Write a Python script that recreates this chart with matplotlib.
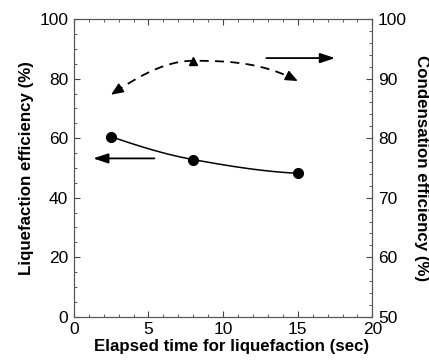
import numpy as np
import matplotlib
matplotlib.use('Agg')
import matplotlib.pyplot as plt
from matplotlib.ticker import MultipleLocator

plt.rcParams['font.family'] = ['Liberation Sans', 'DejaVu Sans']

# data
time_sec = [2.5, 8, 15]
liquefaction = [60.5, 52.8, 48.2]
condensation = [87.3, 93.0, 89.6]


def pchip(x, y, xs):
    # monotone cubic hermite curve through the points (for drawing only)
    x = np.asarray(x, float)
    y = np.asarray(y, float)
    h = np.diff(x)
    d = np.diff(y) / h
    m = np.zeros_like(y)
    for k in range(1, len(x) - 1):
        if d[k - 1] * d[k] > 0:
            w1 = 2 * h[k] + h[k - 1]
            w2 = h[k] + 2 * h[k - 1]
            m[k] = (w1 + w2) / (w1 / d[k - 1] + w2 / d[k])
    m[0] = ((2 * h[0] + h[1]) * d[0] - h[0] * d[1]) / (h[0] + h[1])
    m[-1] = ((2 * h[-1] + h[-2]) * d[-1] - h[-1] * d[-2]) / (h[-1] + h[-2])
    if np.sign(m[0]) != np.sign(d[0]):
        m[0] = 0
    if np.sign(m[-1]) != np.sign(d[-1]):
        m[-1] = 0
    i = np.clip(np.searchsorted(x, xs) - 1, 0, len(x) - 2)
    t = (xs - x[i]) / h[i]
    h00 = 2 * t**3 - 3 * t**2 + 1
    h10 = t**3 - 2 * t**2 + t
    h01 = -2 * t**3 + 3 * t**2
    h11 = t**3 - t**2
    return h00 * y[i] + h10 * h[i] * m[i] + h01 * y[i + 1] + h11 * h[i] * m[i + 1]


fig, ax = plt.subplots(figsize=(4.29, 3.6), dpi=100)
fig.subplots_adjust(left=0.172, right=0.868, top=0.947, bottom=0.12)
ax2 = ax.twinx()

xs = np.linspace(time_sec[0], time_sec[-1], 200)
liq_curve = pchip(time_sec, liquefaction, xs)
con_curve = pchip(time_sec, condensation, xs)

ax.plot(xs, liq_curve, color='black', lw=1.1)
ax.plot(time_sec, liquefaction, 'o', color='black', ms=7)

ax2.plot(xs[4:-4], con_curve[4:-4], color='black', lw=1.3, dashes=(5, 3.5))
ax2.plot(time_sec[1], condensation[1], '^', color='black', ms=6)
# arrowheads at both ends of the dashed curve
head = dict(arrowstyle='-|>,head_length=0.75,head_width=0.32', color='black', lw=1.0,
            shrinkA=0, shrinkB=0)
ax2.annotate('', xy=(xs[0], con_curve[0]), xytext=(xs[6], con_curve[6]), arrowprops=head)
ax2.annotate('', xy=(xs[-1], con_curve[-1]), xytext=(xs[-7], con_curve[-7]), arrowprops=head)

# arrows pointing to each axis
arr = dict(arrowstyle='-|>,head_length=0.9,head_width=0.3', color='black', lw=1.3,
           shrinkA=0, shrinkB=0)
ax.annotate('', xy=(1.3, 53.2), xytext=(5.4, 53.2), arrowprops=arr)
ax.annotate('', xy=(17.5, 86.9), xytext=(12.9, 86.9), arrowprops=arr)

ax.set_xlim(0, 20)
ax.set_ylim(0, 100)
ax2.set_ylim(50, 100)

ax.xaxis.set_major_locator(MultipleLocator(5))
ax.xaxis.set_minor_locator(MultipleLocator(1))
ax.yaxis.set_major_locator(MultipleLocator(20))
ax.yaxis.set_minor_locator(MultipleLocator(5))
ax2.yaxis.set_major_locator(MultipleLocator(10))
ax2.yaxis.set_minor_locator(MultipleLocator(2))

for a in (ax, ax2):
    a.tick_params(which='both', direction='in', labelsize=12.5, color='#444444', pad=4)
    a.tick_params(which='major', length=4)
    a.tick_params(which='minor', length=2)
    for s in a.spines.values():
        s.set_color('#555555')
ax.tick_params(which='both', top=True)

ax.set_xlabel('Elapsed time for liquefaction (sec)', fontsize=12.2, fontweight='bold')
ax.xaxis.set_label_coords(0.53, -0.075)
ax.set_ylabel('Liquefaction efficiency (%)', fontsize=12.2, fontweight='bold', labelpad=4)
ax2.set_ylabel('Condensation efficiency (%)', fontsize=12.2, fontweight='bold', rotation=270, labelpad=16)

plt.savefig('out.png', dpi=100)
